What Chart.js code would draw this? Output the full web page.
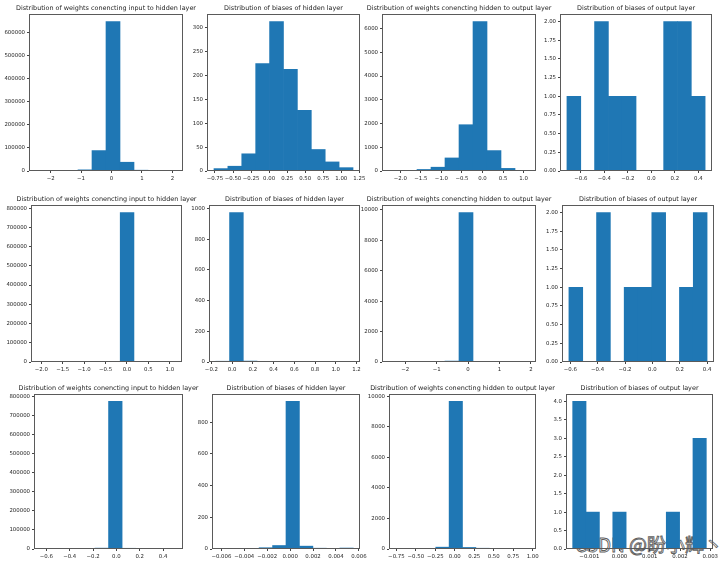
<!DOCTYPE html>
<html>
<head>
<meta charset="utf-8">
<script src="https://cdn.jsdelivr.net/npm/chart.js@4"></script>
<style>
    html, body { margin: 0; padding: 0; background: #fff; overflow: hidden; }
    body { width: 724px; height: 565px; position: relative; }
    canvas { position: absolute; }
    #watermark {
        position: absolute; left: 575px; top: 530px;
        font-family: "Noto Sans CJK SC", sans-serif; font-size: 19px;
        color: rgba(255, 255, 255, 0.92);
        -webkit-text-stroke: 0.9px #5f5f5f;
        white-space: nowrap;
    }
</style>
</head>
<body>
<div id="watermark">CSDN @盼小辉丶</div>
<script>
// === Titles (same four for every row) ===
const titles = [
    "Distribution of weights conencting input to hidden layer",
    "Distribution of biases of hidden layer",
    "Distribution of weights conencting hidden to output layer",
    "Distribution of biases of output layer"
];

// === Row 1 ===
const edges1 = [-2.48, -2.02, -1.56, -1.10, -0.64, -0.18, 0.28, 0.74, 1.20, 1.66, 2.12];
const counts1 = [20, 100, 600, 5000, 88500, 648000, 38000, 3500, 250, 30];
const xTicks1 = [-2, -1, 0, 1, 2];
const yTicks1 = [0, 100000, 200000, 300000, 400000, 500000, 600000];

const edges2 = [-0.764, -0.571, -0.379, -0.186, 0.007, 0.199, 0.392, 0.585, 0.777, 0.970, 1.163];
const counts2 = [5, 10, 36, 225, 313, 213, 127, 45, 19, 7];
const xTicks2 = [-0.75, -0.5, -0.25, 0, 0.25, 0.5, 0.75, 1.0, 1.25];
const yTicks2 = [0, 50, 100, 150, 200, 250, 300];

const edges3 = [-2.275, -1.934, -1.594, -1.253, -0.913, -0.572, -0.231, 0.109, 0.450, 0.791, 1.131];
const counts3 = [3, 25, 65, 160, 550, 1950, 6300, 860, 110, 10];
const xTicks3 = [-2.0, -1.5, -1.0, -0.5, 0.0, 0.5, 1.0];
const yTicks3 = [0, 1000, 2000, 3000, 4000, 5000, 6000];

const edges4 = [-0.718, -0.600, -0.483, -0.365, -0.248, -0.130, -0.013, 0.105, 0.222, 0.340, 0.457];
const counts4 = [1, 0, 2, 1, 1, 0, 0, 2, 2, 1];
const xTicks4 = [-0.6, -0.4, -0.2, 0.0, 0.2, 0.4];
const yTicks4 = [0, 0.25, 0.5, 0.75, 1.0, 1.25, 1.5, 1.75, 2.0];

// === Row 2 ===
const edges5 = [-2.08, -1.76, -1.439, -1.119, -0.798, -0.478, -0.157, 0.163, 0.484, 0.804, 1.125];
const counts5 = [50, 100, 200, 500, 1500, 2500, 777500, 1200, 300, 150];
const xTicks5 = [-2.0, -1.5, -1.0, -0.5, 0.0, 0.5, 1.0];
const yTicks5 = [0, 100000, 200000, 300000, 400000, 500000, 600000, 700000, 800000];

const edges6 = [-0.157, -0.025, 0.108, 0.240, 0.373, 0.505, 0.638, 0.770, 0.903, 1.035, 1.168];
const counts6 = [5, 974, 6, 3, 3, 2, 2, 1, 2, 2];
const xTicks6 = [-0.2, 0.0, 0.2, 0.4, 0.6, 0.8, 1.0, 1.2];
const yTicks6 = [0, 200, 400, 600, 800, 1000];

const edges7 = [-2.513, -2.068, -1.623, -1.178, -0.733, -0.288, 0.157, 0.602, 1.047, 1.492, 1.937];
const counts7 = [2, 5, 10, 40, 60, 9830, 45, 5, 2, 1];
const xTicks7 = [-2, -1, 0, 1, 2];
const yTicks7 = [0, 2000, 4000, 6000, 8000, 10000];

const edges8 = [-0.61, -0.509, -0.408, -0.307, -0.206, -0.105, -0.004, 0.097, 0.198, 0.299, 0.40];
const counts8 = [1, 0, 2, 0, 1, 1, 2, 0, 1, 2];
const xTicks8 = [-0.6, -0.4, -0.2, 0.0, 0.2, 0.4];
const yTicks8 = [0, 0.25, 0.5, 0.75, 1.0, 1.25, 1.5, 1.75, 2.0];

// === Row 3 ===
const edges9 = [-0.648, -0.532, -0.416, -0.300, -0.184, -0.067, 0.049, 0.165, 0.281, 0.397, 0.513];
const counts9 = [50, 100, 200, 800, 4500, 774000, 3800, 400, 100, 50];
const xTicks9 = [-0.6, -0.4, -0.2, 0.0, 0.2, 0.4];
const yTicks9 = [0, 100000, 200000, 300000, 400000, 500000, 600000, 700000, 800000];

const edges10 = [-0.00623, -0.00506, -0.00388, -0.00271, -0.00153, -0.00036, 0.00081, 0.00199, 0.00316, 0.00434, 0.00551];
const counts10 = [0, 1, 4, 8, 22, 932, 18, 5, 4, 6];
const xTicks10 = [-0.006, -0.004, -0.002, 0.0, 0.002, 0.004, 0.006];
const yTicks10 = [0, 200, 400, 600, 800];

const edges11 = [-0.759, -0.587, -0.416, -0.244, -0.073, 0.099, 0.271, 0.442, 0.614, 0.785, 0.957];
const counts11 = [2, 5, 40, 120, 9655, 100, 50, 20, 5, 3];
const xTicks11 = [-0.75, -0.5, -0.25, 0.0, 0.25, 0.5, 0.75, 1.0];
const yTicks11 = [0, 2000, 4000, 6000, 8000, 10000];

const edges12 = [-0.001551, -0.001109, -0.000667, -0.000225, 0.000217, 0.000659, 0.001101, 0.001543, 0.001985, 0.002426, 0.002868];
const counts12 = [4, 1, 0, 1, 0, 0, 0, 1, 0, 3];
const xTicks12 = [-0.001, 0.0, 0.001, 0.002, 0.003];
const yTicks12 = [0, 0.5, 1.0, 1.5, 2.0, 2.5, 3.0, 3.5, 4.0];

// === Axes boxes [left, top, right, bottom] in page pixels ===
const axesBoxes = [
    [29, 14, 183, 171], [207, 14, 360, 171], [382, 14, 536, 171], [560, 14, 712, 171],
    [31, 205, 182, 362], [209, 205, 360, 362], [382, 205, 536, 362], [562, 205, 714, 362],
    [34, 394, 183, 549], [212, 394, 360, 549], [389, 394, 536, 549], [566, 394, 713, 549]
];

const panels = [
    { edges: edges1, counts: counts1, xTicks: xTicks1, yTicks: yTicks1, xDec: 0, yDec: 0 },
    { edges: edges2, counts: counts2, xTicks: xTicks2, yTicks: yTicks2, xDec: 2, yDec: 0 },
    { edges: edges3, counts: counts3, xTicks: xTicks3, yTicks: yTicks3, xDec: 1, yDec: 0 },
    { edges: edges4, counts: counts4, xTicks: xTicks4, yTicks: yTicks4, xDec: 1, yDec: 2 },
    { edges: edges5, counts: counts5, xTicks: xTicks5, yTicks: yTicks5, xDec: 1, yDec: 0 },
    { edges: edges6, counts: counts6, xTicks: xTicks6, yTicks: yTicks6, xDec: 1, yDec: 0 },
    { edges: edges7, counts: counts7, xTicks: xTicks7, yTicks: yTicks7, xDec: 0, yDec: 0 },
    { edges: edges8, counts: counts8, xTicks: xTicks8, yTicks: yTicks8, xDec: 1, yDec: 2 },
    { edges: edges9, counts: counts9, xTicks: xTicks9, yTicks: yTicks9, xDec: 1, yDec: 0 },
    { edges: edges10, counts: counts10, xTicks: xTicks10, yTicks: yTicks10, xDec: 3, yDec: 0 },
    { edges: edges11, counts: counts11, xTicks: xTicks11, yTicks: yTicks11, xDec: 2, yDec: 0 },
    { edges: edges12, counts: counts12, xTicks: xTicks12, yTicks: yTicks12, xDec: 3, yDec: 1 }
];

const PAD_LEFT = 46, PAD_TOP = 14, PAD_RIGHT = 22, PAD_BOTTOM = 16;
const TEXT = "#1e1e1e";
const FONT = "DejaVu Sans";

// matplotlib style minus sign
function fmt(v, dec) {
    const s = Math.abs(v).toFixed(dec);
    return (v < 0 ? "\u2212" : "") + s;
}

// === Frame (4 spines) + title plugin ===
const framePlugin = {
    id: "frame",
    afterDatasetsDraw(chart, args, opts) {
        const { left, top, right, bottom } = chart.chartArea;
        const ctx = chart.ctx;
        ctx.save();
        ctx.strokeStyle = "#5a5a5a";
        ctx.lineWidth = 1;
        ctx.strokeRect(left + 0.5, top + 0.5, right - left - 1, bottom - top - 1);
        ctx.fillStyle = TEXT;
        ctx.font = `6.45px "${FONT}"`;
        ctx.textAlign = "center";
        ctx.textBaseline = "middle";
        ctx.fillText(opts.title, (left + right) / 2, top - 5.5);
        ctx.restore();
    }
};

function makeChart(p, box, title) {
    const [L, T, R, B] = box;
    const canvas = document.createElement("canvas");
    canvas.width = (R - L) + PAD_LEFT + PAD_RIGHT;
    canvas.height = (B - T) + PAD_TOP + PAD_BOTTOM;
    canvas.style.left = (L - PAD_LEFT) + "px";
    canvas.style.top = (T - PAD_TOP) + "px";
    document.body.appendChild(canvas);

    const lo = p.edges[0], hi = p.edges[p.edges.length - 1];
    const margin = (hi - lo) * 0.05;
    const yMax = Math.max(...p.counts) * 1.05;
    const points = p.counts.map((c, i) => ({ x: (p.edges[i] + p.edges[i + 1]) / 2, y: c }));

    const tickFont = { family: FONT, size: 5.4 };

    new Chart(canvas.getContext("2d"), {
        type: "bar",
        data: {
            datasets: [{
                data: points,
                backgroundColor: "#1f77b4",
                borderWidth: 0,
                barPercentage: 1,
                categoryPercentage: 1
            }]
        },
        options: {
            responsive: false,
            animation: false,
            events: [],
            layout: { padding: { left: 0, top: PAD_TOP, right: PAD_RIGHT, bottom: 0 } },
            plugins: {
                legend: { display: false },
                tooltip: { enabled: false },
                frame: { title: title }
            },
            scales: {
                x: {
                    type: "linear",
                    min: lo - margin,
                    max: hi + margin,
                    offset: false,
                    grid: { display: true, offset: false, drawOnChartArea: false, tickLength: 2, color: "#444" },
                    border: { display: false },
                    ticks: {
                        autoSkip: false, maxRotation: 0, minRotation: 0, padding: 2,
                        color: TEXT, font: tickFont,
                        callback: v => fmt(v, p.xDec)
                    },
                    afterBuildTicks: axis => { axis.ticks = p.xTicks.map(v => ({ value: v })); },
                    afterFit: axis => { axis.height = PAD_BOTTOM; }
                },
                y: {
                    min: 0,
                    max: yMax,
                    grid: { display: true, drawOnChartArea: false, tickLength: 2, color: "#444" },
                    border: { display: false },
                    ticks: {
                        autoSkip: false, padding: 2,
                        color: TEXT, font: tickFont,
                        callback: v => fmt(v, p.yDec)
                    },
                    afterBuildTicks: axis => { axis.ticks = p.yTicks.map(v => ({ value: v })); },
                    afterFit: axis => { axis.width = PAD_LEFT; }
                }
            }
        },
        plugins: [framePlugin]
    });
}

panels.forEach((p, i) => makeChart(p, axesBoxes[i], titles[i % 4]));
</script>
</body>
</html>
